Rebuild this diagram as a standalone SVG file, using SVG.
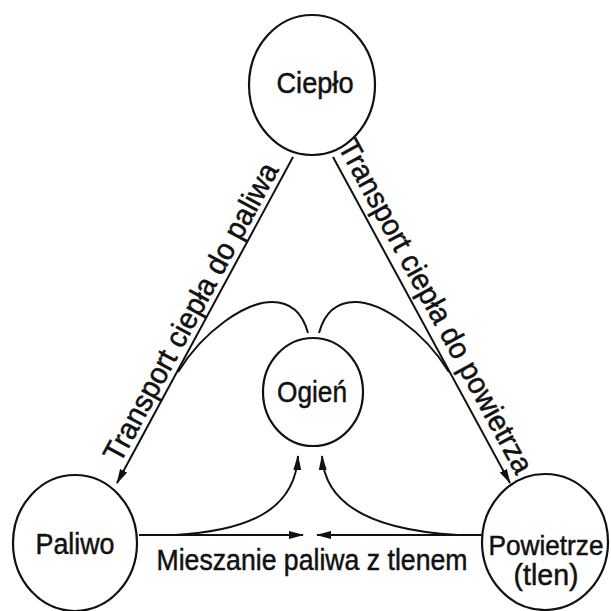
<svg xmlns="http://www.w3.org/2000/svg" width="611" height="611" viewBox="0 0 611 611">
<style>
.node{fill:#fff;stroke:#111;stroke-width:2.2}
.lbl{font-family:"Liberation Sans",Arial,sans-serif;font-size:30px;fill:#111;stroke:#111;stroke-width:0.5;text-anchor:middle}
.edge{fill:none;stroke:#111;stroke-width:2}
</style>
<defs>
<marker id="ah" viewBox="0 0 15 9" refX="14" refY="4.5" markerWidth="15" markerHeight="9" markerUnits="userSpaceOnUse" orient="auto">
<path d="M0,0.5 L15,4.5 L0,8.5 Z" fill="#111"/>
</marker>
</defs>
<rect width="611" height="611" fill="#fff"/>
<g id="connectors">
<path class="edge" d="M293,157 L117,483" marker-end="url(#ah)"/>
<path class="edge" d="M333,157 L510,483" marker-end="url(#ah)"/>
<path class="edge" d="M308,333 C302,311 290,302 272,302 C246,302 204,330 178,372"/>
<path class="edge" d="M319,333 C325,311 337,302 355,302 C381,302 423,330 449,372"/>
<path class="edge" d="M139,535 L303,535" marker-end="url(#ah)"/>
<path class="edge" d="M483,535 L317,535" marker-end="url(#ah)"/>
<path class="edge" d="M175,535 C245,531 295,512 298,456" marker-end="url(#ah)"/>
<path class="edge" d="M458,535 C388,531 325,512 322,456" marker-end="url(#ah)"/>
<text class="lbl" textLength="335" lengthAdjust="spacingAndGlyphs" transform="translate(199.7,317) rotate(-61.6)">Transport ciepła do paliwa</text>
<text class="lbl" textLength="375" lengthAdjust="spacingAndGlyphs" transform="translate(427,311.3) rotate(61.5)">Transport ciepła do powietrza</text>
<text class="lbl" x="312" y="570" textLength="311" lengthAdjust="spacingAndGlyphs">Mieszanie paliwa z tlenem</text>
</g>
<g id="cieplo">
<ellipse class="node" cx="312" cy="85" rx="63" ry="70"/>
<text class="lbl" x="315" y="93" textLength="77" lengthAdjust="spacingAndGlyphs">Ciepło</text>
</g>
<g id="ogien">
<ellipse class="node" cx="313" cy="392" rx="50" ry="54"/>
<text class="lbl" x="312" y="402" textLength="70" lengthAdjust="spacingAndGlyphs">Ogień</text>
</g>
<g id="paliwo">
<ellipse class="node" cx="75" cy="543" rx="62" ry="68"/>
<text class="lbl" x="75" y="554" textLength="79" lengthAdjust="spacingAndGlyphs">Paliwo</text>
</g>
<g id="powietrze">
<ellipse class="node" cx="545" cy="542" rx="63" ry="68"/>
<text class="lbl" style="font-size:28px" x="546" y="555" textLength="115" lengthAdjust="spacingAndGlyphs">Powietrze</text>
<text class="lbl" x="546" y="585" textLength="65" lengthAdjust="spacingAndGlyphs">(tlen)</text>
</g>
</svg>
